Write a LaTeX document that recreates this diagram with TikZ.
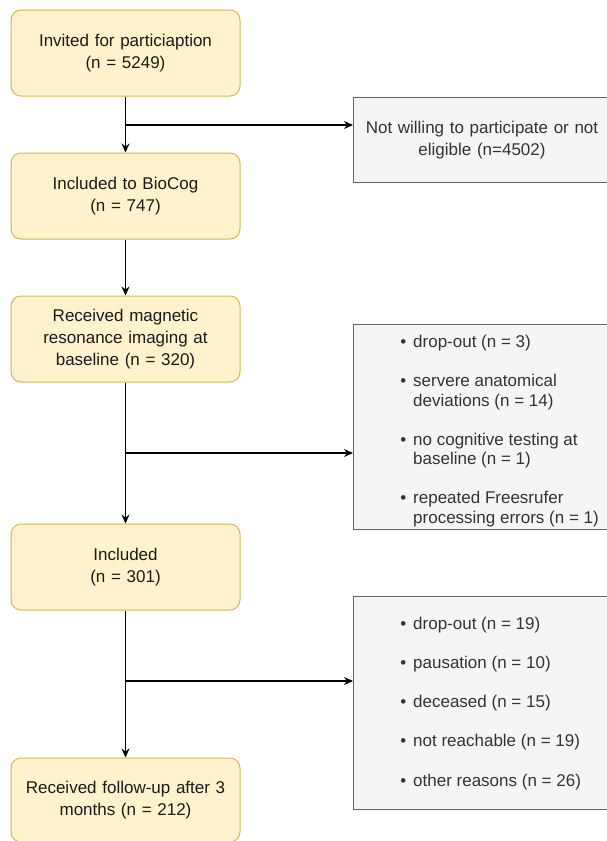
\documentclass[tikz,border=0pt]{standalone}
\usepackage{fontspec}
\setmainfont{Liberation Sans}
\usetikzlibrary{arrows.meta}
\definecolor{yfill}{HTML}{FFF2CC}
\definecolor{ydraw}{HTML}{D6B656}
\definecolor{gfill}{HTML}{F5F5F5}
\definecolor{gdraw}{HTML}{666666}
\definecolor{gtext}{HTML}{333333}
\definecolor{mtext}{HTML}{1A1A1A}
\begin{document}
\begin{tikzpicture}[x=1pt,y=-1pt,
  mainbox/.style={draw=ydraw, fill=yfill, rounded corners=10pt, line width=1pt,
    minimum width=229pt, minimum height=86pt, align=center, text width=215pt,
    font=\fontsize{17}{22}\selectfont, text=mtext, inner sep=0pt},
  sidebox/.style={draw=gdraw, fill=gfill, line width=1pt, anchor=north west,
    minimum width=257pt, inner sep=0pt},
  arr/.style={-{Stealth[length=9pt,width=8pt,inset=3pt]}, line width=1.2pt},
  ln/.style={line width=1.2pt},
  itemtxt/.style={anchor=base west, font=\fontsize{17}{19.5}\selectfont, text=gtext, inner sep=0pt},
]
\useasboundingbox (0,0) rectangle (607,841);
\fill[white] (0,0) rectangle (607,841);

% main boxes
\node[mainbox] (b1) at (125.5,53) {Invited for particiaption\\(n = 5249)};
\node[mainbox] (b2) at (125.5,196) {Included to BioCog\\(n = 747)};
\node[mainbox] (b3) at (125.5,339) {Received magnetic\\resonance imaging at\\baseline (n = 320)};
\node[mainbox] (b4) at (125.5,567) {Included\\(n = 301)};
\node[mainbox, minimum height=84pt] (b5) at (125.5,800) {Received follow-up after 3\\months (n = 212)};

% side boxes
\node[sidebox, minimum height=85pt, align=center, text width=250pt,
  font=\fontsize{17}{22}\selectfont, text=gtext] (r1) at (353,97)
  {Not willing to participate or not\\eligible (n=4502)};
\node[sidebox, minimum height=205pt] (r2) at (353,324) {};
\node[sidebox, minimum height=213pt] (r3) at (353,596) {};

% list 1
\node[itemtxt] (a1) at (413,347) {\llap{\textbullet\hspace{7pt}}drop-out (n = 3)};
\node[itemtxt] (a2) at (413,386.5) {\llap{\textbullet\hspace{7pt}}servere anatomical};
\node[itemtxt] (a2b) at (413,406) {deviations (n = 14)};
\node[itemtxt] (a3) at (413,445) {\llap{\textbullet\hspace{7pt}}no cognitive testing at};
\node[itemtxt] (a3b) at (413,464.5) {baseline (n = 1)};
\node[itemtxt] (a4) at (413,503.5) {\llap{\textbullet\hspace{7pt}}repeated Freesrufer};
\node[itemtxt] (a4b) at (413,523) {processing errors (n = 1)};

% list 2
\node[itemtxt] (c1) at (413,629) {\llap{\textbullet\hspace{7pt}}drop-out (n = 19)};
\node[itemtxt] (c2) at (413,668.3) {\llap{\textbullet\hspace{7pt}}pausation (n = 10)};
\node[itemtxt] (c3) at (413,707.6) {\llap{\textbullet\hspace{7pt}}deceased (n = 15)};
\node[itemtxt] (c4) at (413,746.9) {\llap{\textbullet\hspace{7pt}}not reachable (n = 19)};
\node[itemtxt] (c5) at (413,786.2) {\llap{\textbullet\hspace{7pt}}other reasons (n = 26)};

% junctions
\coordinate (j1) at (125.5,125);
\coordinate (j2) at (125.5,453);
\coordinate (j3) at (125.5,681);

% connectors
\draw[arr] (b1.south) -- (b2.north);
\draw[arr] (j1) -- (j1 -| r1.west);
\draw[arr] (b2.south) -- (b3.north);
\draw[arr] (b3.south) -- (b4.north);
\draw[arr] (j2) -- (j2 -| r2.west);
\draw[arr] (b4.south) -- (b5.north);
\draw[arr] (j3) -- (j3 -| r3.west);
\end{tikzpicture}
\end{document}
